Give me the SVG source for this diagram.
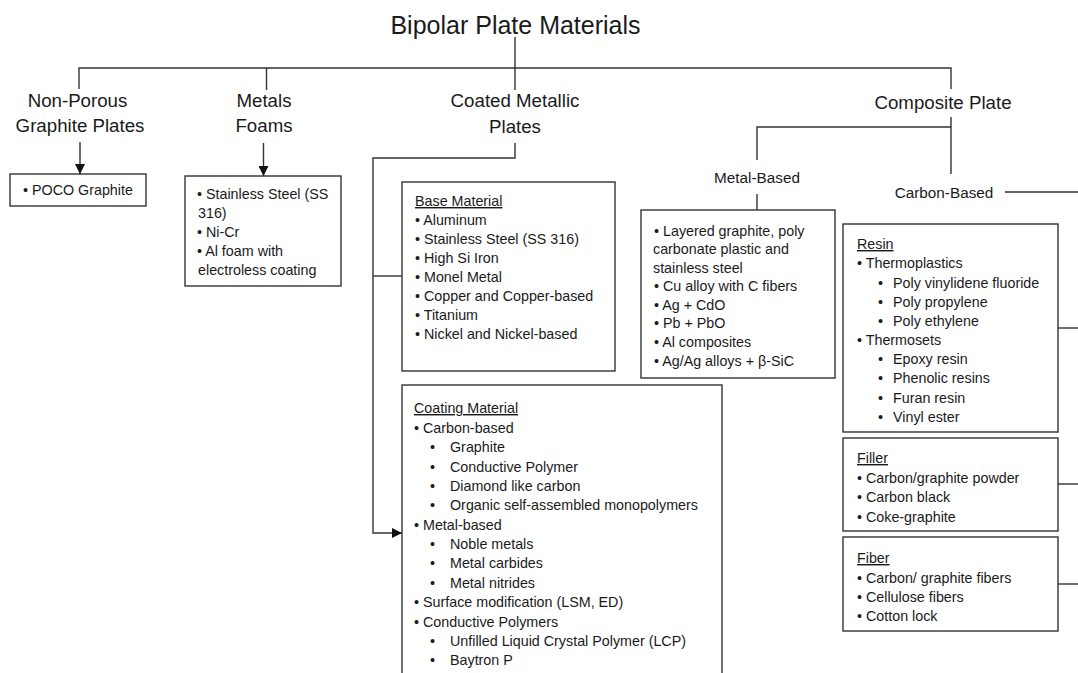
<svg xmlns="http://www.w3.org/2000/svg" width="1078" height="673" viewBox="0 0 1078 673">
<style>
text{font-family:"Liberation Sans",Arial,sans-serif;fill:#1a1a1a}
.t0{font-size:25px}
.t1{font-size:18.7px;text-anchor:middle}
.t2{font-size:15.3px;text-anchor:middle}
.b{font-size:14.3px}
.u{text-decoration:underline}
.box{fill:#fff;stroke:#333;stroke-width:1.4}
.ln{fill:none;stroke:#333;stroke-width:1.4}
</style>
<defs>
<marker id="ah" markerUnits="userSpaceOnUse" markerWidth="10" markerHeight="10" refX="10" refY="5" orient="auto" viewBox="0 0 10 10">
<path d="M0,0 L10,5 L0,10 z" fill="#111"/>
</marker>
</defs>
<rect width="1078" height="673" fill="#fff"/>

<g id="connectors">
<path class="ln" d="M515,37 V90"/>
<path class="ln" d="M79,89 V68 H951 V89"/>
<path class="ln" d="M266.5,68 V90"/>
<path class="ln" d="M80,142 V174" marker-end="url(#ah)"/>
<path class="ln" d="M263.5,143 V176" marker-end="url(#ah)"/>
<path class="ln" d="M515,143 V158 H373 V533 H402" marker-end="url(#ah)"/>
<path class="ln" d="M373,276 H402"/>
<path class="ln" d="M951,117 V174"/>
<path class="ln" d="M757,160 V127 H951"/>
<path class="ln" d="M757,194 V210"/>
<path class="ln" d="M1005,192 H1078"/>
<path class="ln" d="M1058,328 H1078"/>
<path class="ln" d="M1058,484 H1078"/>
<path class="ln" d="M1058,584 H1078"/>
</g>

<g id="title"><text class="t0" x="515.5" y="33.5" text-anchor="middle">Bipolar Plate Materials</text></g>

<g id="non-porous">
<text class="t1" x="77.5" y="106.7">Non-Porous</text>
<text class="t1" x="80" y="132">Graphite Plates</text>
</g>
<g id="metals-foams">
<text class="t1" x="264" y="107">Metals</text>
<text class="t1" x="264" y="132">Foams</text>
</g>
<g id="coated-metallic">
<text class="t1" x="515" y="107.3">Coated Metallic</text>
<text class="t1" x="515" y="133.3">Plates</text>
</g>
<g id="composite-plate"><text class="t1" x="943" y="108.8">Composite Plate</text></g>
<g id="metal-based"><text class="t2" x="757" y="183.3">Metal-Based</text></g>
<g id="carbon-based"><text class="t2" x="944" y="198.3">Carbon-Based</text></g>

<g id="poco-box">
<rect class="box" x="10" y="174" width="136" height="32"/>
<text class="b" x="23" y="195">• POCO Graphite</text>
</g>

<g id="foams-box">
<rect class="box" x="185" y="176" width="156" height="110"/>
<text class="b" x="197">
<tspan x="197" y="199">• Stainless Steel (SS</tspan>
<tspan x="198" y="218">316)</tspan>
<tspan x="197" y="237">• Ni-Cr</tspan>
<tspan x="197" y="256">• Al foam with</tspan>
<tspan x="198" y="275">electroless coating</tspan>
</text>
</g>

<g id="base-material-box">
<rect class="box" x="402" y="182" width="213" height="189"/>
<text class="b u" x="415" y="206">Base Material</text>
<text class="b">
<tspan x="415" y="225">• Aluminum</tspan>
<tspan x="415" y="244">• Stainless Steel (SS 316)</tspan>
<tspan x="415" y="263">• High Si Iron</tspan>
<tspan x="415" y="282">• Monel Metal</tspan>
<tspan x="415" y="301">• Copper and Copper-based</tspan>
<tspan x="415" y="320">• Titanium</tspan>
<tspan x="415" y="339">• Nickel and Nickel-based</tspan>
</text>
</g>

<g id="metal-based-box">
<rect class="box" x="641" y="210" width="194" height="168"/>
<text class="b">
<tspan x="654" y="235.5">• Layered graphite, poly</tspan>
<tspan x="653" y="254">carbonate plastic and</tspan>
<tspan x="653" y="272.5">stainless steel</tspan>
<tspan x="654" y="291">• Cu alloy with C fibers</tspan>
<tspan x="654" y="309.5">• Ag + CdO</tspan>
<tspan x="654" y="328">• Pb + PbO</tspan>
<tspan x="654" y="346.5">• Al composites</tspan>
<tspan x="654" y="365.5">• Ag/Ag alloys + β-SiC</tspan>
</text>
</g>

<g id="coating-material-box">
<rect class="box" x="402" y="385" width="320" height="310"/>
<text class="b u" x="414" y="413">Coating Material</text>
<text class="b">
<tspan x="414" y="433">• Carbon-based</tspan>
<tspan x="430" y="452">•</tspan><tspan x="450" y="452">Graphite</tspan>
<tspan x="430" y="472">•</tspan><tspan x="450" y="472">Conductive Polymer</tspan>
<tspan x="430" y="491">•</tspan><tspan x="450" y="491">Diamond like carbon</tspan>
<tspan x="430" y="510">•</tspan><tspan x="450" y="510">Organic self-assembled monopolymers</tspan>
<tspan x="414" y="530">• Metal-based</tspan>
<tspan x="430" y="549">•</tspan><tspan x="450" y="549">Noble metals</tspan>
<tspan x="430" y="568">•</tspan><tspan x="450" y="568">Metal carbides</tspan>
<tspan x="430" y="588">•</tspan><tspan x="450" y="588">Metal nitrides</tspan>
<tspan x="414" y="607">• Surface modification (LSM, ED)</tspan>
<tspan x="414" y="627">• Conductive Polymers</tspan>
<tspan x="430" y="646">•</tspan><tspan x="450" y="646">Unfilled Liquid Crystal Polymer (LCP)</tspan>
<tspan x="430" y="665">•</tspan><tspan x="450" y="665">Baytron P</tspan>
</text>
</g>

<g id="resin-box">
<rect class="box" x="843" y="224" width="215" height="208"/>
<text class="b u" x="857" y="249">Resin</text>
<text class="b">
<tspan x="857" y="268">• Thermoplastics</tspan>
<tspan x="878" y="288">•</tspan><tspan x="893" y="288">Poly vinylidene fluoride</tspan>
<tspan x="878" y="307">•</tspan><tspan x="893" y="307">Poly propylene</tspan>
<tspan x="878" y="326">•</tspan><tspan x="893" y="326">Poly ethylene</tspan>
<tspan x="857" y="345">• Thermosets</tspan>
<tspan x="878" y="364">•</tspan><tspan x="893" y="364">Epoxy resin</tspan>
<tspan x="878" y="383">•</tspan><tspan x="893" y="383">Phenolic resins</tspan>
<tspan x="878" y="403">•</tspan><tspan x="893" y="403">Furan resin</tspan>
<tspan x="878" y="422">•</tspan><tspan x="893" y="422">Vinyl ester</tspan>
</text>
</g>

<g id="filler-box">
<rect class="box" x="843" y="438" width="215" height="93"/>
<text class="b u" x="857" y="463">Filler</text>
<text class="b">
<tspan x="857" y="483">• Carbon/graphite powder</tspan>
<tspan x="857" y="502">• Carbon black</tspan>
<tspan x="857" y="522">• Coke-graphite</tspan>
</text>
</g>

<g id="fiber-box">
<rect class="box" x="843" y="537" width="215" height="94"/>
<text class="b u" x="857" y="563">Fiber</text>
<text class="b">
<tspan x="857" y="583">• Carbon/ graphite fibers</tspan>
<tspan x="857" y="602">• Cellulose fibers</tspan>
<tspan x="857" y="621">• Cotton lock</tspan>
</text>
</g>
</svg>
